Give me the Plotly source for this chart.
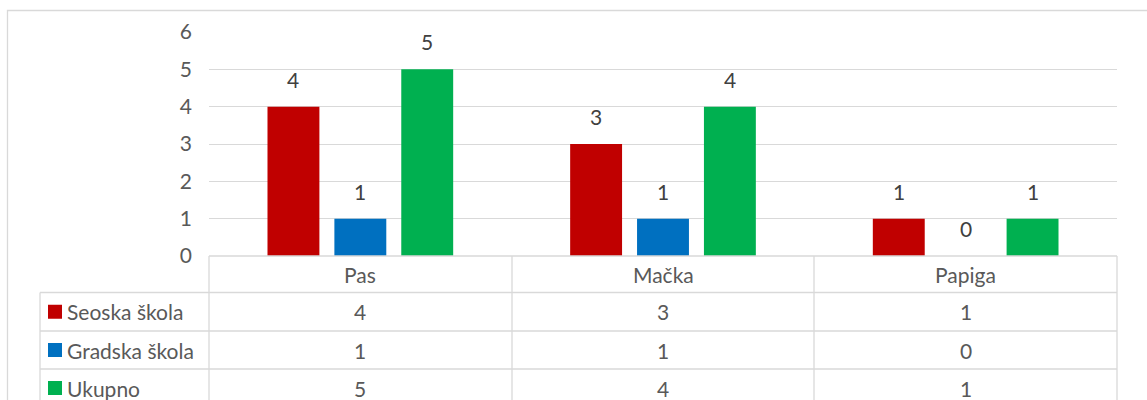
import plotly.graph_objects as go

categories = ["Pas", "Mačka", "Papiga"]
series_names = ["Seoska škola", "Gradska škola", "Ukupno"]
seoska = [4, 3, 1]
gradska = [1, 1, 0]
ukupno = [5, 4, 1]
series_values = [seoska, gradska, ukupno]
colors = ["#C00000", "#0070C0", "#00B050"]
y_ticks = [0, 1, 2, 3, 4, 5, 6]

W, H = 1147, 400
ML, MR, MT, MB = 209, 30, 32, 144
PW = W - ML - MR
PH = H - MT - MB
FONT = "Lato"
FS = 21
GRID = "#D9D9D9"
TXT = "#595959"

BARGAP = 0.337
GROUPGAP = 0.224


def px(x):
    return (x - ML) / PW


def py(y):
    return (H - MB - y) / PH


fig = go.Figure()
for name, vals, col in zip(series_names, series_values, colors):
    fig.add_trace(go.Bar(x=categories, y=vals, name=name, marker=dict(color=col, line=dict(width=0)),
                         showlegend=False, hoverinfo="x+y+name"))

shapes = []
annotations = []

# data labels above bars
n = len(series_names)
slot = (1 - BARGAP) / n
for j, vals in enumerate(series_values):
    off = (j - (n - 1) / 2) * slot
    for i, v in enumerate(vals):
        annotations.append(dict(x=i + off, y=v, xref="x", yref="y", text=str(v), showarrow=False,
                                yanchor="bottom", yshift=13, font=dict(family=FONT, size=FS, color="#404040")))

line = dict(color=GRID, width=1.3)
# outer chart border
shapes.append(dict(type="rect", xref="paper", yref="paper", x0=px(7.5), x1=px(1160), y0=py(10.5), y1=py(420),
                   line=dict(color=GRID, width=1.3), layer="below"))

# data table grid
row_tops = [256, 292.5, 331, 369, 407]
col_x = [209, 512, 814, 1117]
for k, yy in enumerate(row_tops):
    x0 = 209 if k == 0 else 40
    shapes.append(dict(type="line", xref="paper", yref="paper", x0=px(x0), x1=px(1117), y0=py(yy), y1=py(yy), line=line))
for xx in col_x:
    shapes.append(dict(type="line", xref="paper", yref="paper", x0=px(xx), x1=px(xx), y0=py(256), y1=py(410), line=line))
shapes.append(dict(type="line", xref="paper", yref="paper", x0=px(40), x1=px(40), y0=py(292.5), y1=py(410), line=line))

# header row: category names
for i, c in enumerate(categories):
    annotations.append(dict(x=i, y=py((row_tops[0] + row_tops[1]) / 2), xref="x", yref="paper", text=c,
                            showarrow=False, yanchor="middle", font=dict(family=FONT, size=FS, color=TXT)))

# data rows
for j, (name, vals, col) in enumerate(zip(series_names, series_values, colors)):
    yc = (row_tops[j + 1] + row_tops[j + 2]) / 2
    shapes.append(dict(type="rect", xref="paper", yref="paper", x0=px(48), x1=px(62), y0=py(yc - 7), y1=py(yc + 7),
                       fillcolor=col, line=dict(width=0)))
    annotations.append(dict(x=px(65), y=py(yc), xref="paper", yref="paper", text=name, showarrow=False,
                            xanchor="left", yanchor="middle", font=dict(family=FONT, size=FS, color=TXT)))
    for i, v in enumerate(vals):
        annotations.append(dict(x=i, y=py(yc), xref="x", yref="paper", text=str(v), showarrow=False,
                                yanchor="middle", font=dict(family=FONT, size=FS, color=TXT)))

fig.update_layout(
    width=W, height=H,
    margin=dict(l=ML, r=MR, t=MT, b=MB),
    paper_bgcolor="white", plot_bgcolor="white",
    barmode="group", bargap=BARGAP, bargroupgap=GROUPGAP,
    font=dict(family=FONT, size=FS, color=TXT),
    xaxis=dict(showticklabels=False, showgrid=False, zeroline=False, showline=False, ticks="",
               range=[-0.5, 2.5], fixedrange=True),
    yaxis=dict(range=[0, 6], tickvals=y_ticks, showgrid=True, gridcolor=GRID, gridwidth=1.3,
               zeroline=False, showline=False, ticks="", ticklabelstandoff=16,
               tickfont=dict(family=FONT, size=FS, color=TXT), fixedrange=True),
    shapes=shapes, annotations=annotations,
)

fig.write_html("out.html", config={"displayModeBar": False},
               post_script="document.body.style.margin='0';document.body.style.padding='0';"
                           "document.body.style.overflow='hidden';")
